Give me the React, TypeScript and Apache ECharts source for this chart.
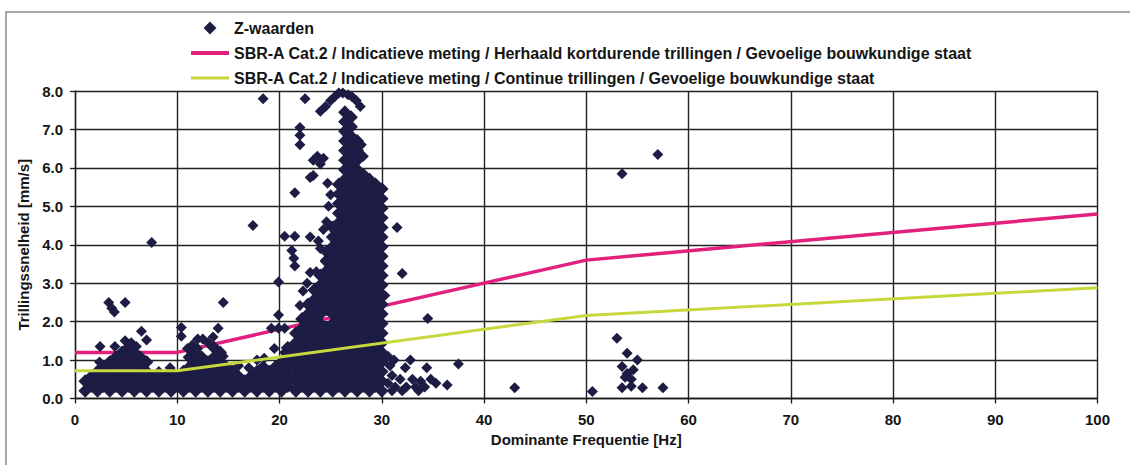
import React, { useEffect, useRef } from "react";
import * as echarts from "echarts";

// ---- Data ----
const lineFreq = [0, 10, 50, 100];
const herhaaldLimit = [1.2, 1.2, 3.6, 4.8];
const continueLimit = [0.72, 0.72, 2.16, 2.88];

const seriesNames = [
  "Z-waarden",
  "SBR-A Cat.2 / Indicatieve meting / Herhaald kortdurende trillingen / Gevoelige bouwkundige staat",
  "SBR-A Cat.2 / Indicatieve meting / Continue trillingen / Gevoelige bouwkundige staat",
];

const xTicks = [0, 10, 20, 30, 40, 50, 60, 70, 80, 90, 100];
const yTicks = [0, 1, 2, 3, 4, 5, 6, 7, 8];

// low-frequency band (0-21 Hz): [frequency, velocities]
const lowBand: [number, number[]][] = [
  [1.0, [0.2, 0.45]],
  [1.6, [0.32, 0.57]],
  [2.2, [0.2, 0.45, 0.7]],
  [2.8, [0.32, 0.57, 0.82]],
  [3.4, [0.2, 0.45, 0.7, 0.95]],
  [4.0, [0.32, 0.57, 0.82, 1.07]],
  [4.6, [0.2, 0.45, 0.7, 0.95, 1.2]],
  [5.2, [0.32, 0.57, 0.82, 1.07, 1.32]],
  [5.8, [0.2, 0.45, 0.7, 0.95, 1.2]],
  [6.4, [0.32, 0.57, 0.82, 1.07]],
  [7.0, [0.2, 0.45, 0.7, 0.95]],
  [7.6, [0.32, 0.57]],
  [8.2, [0.2, 0.45]],
  [8.8, [0.32, 0.57]],
  [9.4, [0.2, 0.45, 0.7]],
  [10.0, [0.32, 0.57]],
  [10.6, [0.2, 0.45, 0.7]],
  [11.2, [0.32, 0.57, 0.82, 1.07]],
  [11.8, [0.2, 0.45, 0.7, 0.95, 1.2]],
  [12.4, [0.32, 0.57, 0.82, 1.07]],
  [13.0, [0.2, 0.45, 0.7, 0.95]],
  [13.6, [0.32, 0.57, 0.82, 1.07, 1.32]],
  [14.2, [0.2, 0.45, 0.7, 0.95, 1.2]],
  [14.8, [0.32, 0.57, 0.82]],
  [15.4, [0.2, 0.45, 0.7]],
  [16.0, [0.32, 0.57]],
  [16.6, [0.2, 0.45]],
  [17.2, [0.32, 0.57]],
  [17.8, [0.2, 0.45, 0.7]],
  [18.4, [0.32, 0.57, 0.82]],
  [19.0, [0.2, 0.45, 0.7]],
  [19.6, [0.32, 0.57, 0.82]],
  [20.2, [0.2, 0.45, 0.7, 0.95]],
  [20.8, [0.32, 0.57, 0.82, 1.07, 1.32]],
];

// main dense cluster (21-30 Hz): [frequency, velocities]
const mainCluster: [number, number[]][] = [
  [21.6, [0.2, 0.45, 0.7, 0.95, 1.2, 1.45, 1.7]],
  [22.2, [0.32, 0.57, 0.82, 1.07, 1.32, 1.57, 1.82, 2.07]],
  [22.8, [0.2, 0.45, 0.7, 0.95, 1.2, 1.45, 1.7, 1.95, 2.2, 2.45]],
  [23.4, [0.32, 0.57, 0.82, 1.07, 1.32, 1.57, 1.82, 2.07, 2.32, 2.57, 2.82]],
  [24.0, [0.2, 0.45, 0.7, 0.95, 1.2, 1.45, 1.7, 1.95, 2.2, 2.45, 2.7, 2.95, 3.2]],
  [24.6, [0.32, 0.57, 0.82, 1.07, 1.32, 1.57, 1.82, 2.32, 2.57, 2.82, 3.07, 3.32, 3.57, 3.82]],
  [25.2, [0.2, 0.45, 0.7, 0.95, 1.2, 1.45, 1.7, 1.95, 2.2, 2.45, 2.7, 2.95, 3.2, 3.45, 3.7, 3.95, 4.2, 4.45]],
  [25.8, [0.32, 0.57, 0.82, 1.07, 1.32, 1.57, 1.82, 2.07, 2.32, 2.57, 2.82, 3.07, 3.32, 3.57, 3.82, 4.07, 4.32, 4.57, 4.82, 5.07, 5.32, 5.57]],
  [26.4, [0.2, 0.45, 0.7, 0.95, 1.2, 1.45, 1.7, 1.95, 2.2, 2.45, 2.7, 2.95, 3.2, 3.45, 3.7, 3.95, 4.2, 4.45, 4.7, 4.95, 5.2, 5.45, 5.7, 5.95, 6.2, 6.45, 6.7, 6.95, 7.2, 7.45]],
  [27.0, [0.32, 0.57, 0.82, 1.07, 1.32, 1.57, 1.82, 2.07, 2.32, 2.57, 2.82, 3.07, 3.32, 3.57, 3.82, 4.07, 4.32, 4.57, 4.82, 5.07, 5.32, 5.57, 5.82, 6.07, 6.32, 6.57, 6.82, 7.07, 7.32]],
  [27.6, [0.2, 0.45, 0.7, 0.95, 1.2, 1.45, 1.7, 1.95, 2.2, 2.45, 2.7, 2.95, 3.2, 3.45, 3.7, 3.95, 4.2, 4.45, 4.7, 4.95, 5.2, 5.45, 5.7, 5.95, 6.2, 6.45, 6.7]],
  [28.2, [0.32, 0.57, 0.82, 1.07, 1.32, 1.57, 1.82, 2.07, 2.32, 2.57, 2.82, 3.07, 3.32, 3.57, 3.82, 4.07, 4.32, 4.57, 4.82, 5.07, 5.32, 5.57, 5.82]],
  [28.8, [0.2, 0.45, 0.7, 0.95, 1.2, 1.45, 1.7, 1.95, 2.2, 2.45, 2.7, 2.95, 3.2, 3.45, 3.7, 3.95, 4.2, 4.45, 4.7, 4.95, 5.2, 5.45, 5.7]],
  [29.4, [0.32, 0.57, 0.82, 1.07, 1.32, 1.57, 1.82, 2.07, 2.32, 2.57, 2.82, 3.07, 3.32, 3.57, 3.82, 4.07, 4.32, 4.57, 4.82, 5.07, 5.32, 5.57]],
  [30.0, [0.2, 0.45, 0.7, 0.95, 1.2, 1.45, 1.7, 1.95, 2.2, 2.45, 2.7, 2.95, 3.2, 3.45, 3.7, 3.95, 4.2, 4.45, 4.7, 4.95, 5.2, 5.45]],
];

// individual measurements outside the dense areas: [frequency, velocity]
const loosePoints: [number, number][] = [
  [2.45, 1.35], [2.4, 0.95], [3.3, 2.5], [3.6, 2.35], [3.85, 2.25], [4.9, 2.5],
  [3.9, 1.35], [4.9, 1.5], [5.5, 1.45], [6.0, 1.35], [6.5, 1.75], [7.0, 1.52],
  [7.5, 4.06], [9.3, 0.8], [8.2, 0.7], [10.4, 1.85], [10.4, 1.62], [11.0, 1.3],
  [11.5, 1.4], [12.0, 1.3], [12.0, 1.55], [12.5, 1.55], [13.0, 1.45], [13.5, 1.6],
  [14.0, 1.83], [14.5, 2.5], [14.5, 1.1], [16.0, 0.85], [17.0, 0.8], [17.4, 4.5],
  [17.8, 1.0], [18.4, 7.8], [18.5, 1.05], [19.2, 1.83], [19.9, 1.83], [20.5, 1.83],
  [19.9, 2.17], [19.9, 3.03], [20.5, 1.2], [19.5, 1.3],
  [21.2, 3.85], [21.4, 3.65], [21.5, 3.45], [21.5, 4.22], [20.5, 4.22], [21.5, 5.35],
  [22.0, 6.6], [22.0, 6.85], [22.0, 7.05], [22.5, 7.8], [22.0, 2.42], [23.0, 3.28],
  [23.0, 4.2], [23.0, 5.75], [23.3, 5.8], [23.3, 6.2], [23.7, 6.3], [24.0, 6.1],
  [24.3, 6.25], [23.6, 3.3], [23.8, 4.1], [24.0, 3.9], [24.3, 4.4], [24.5, 3.6],
  [24.6, 4.6], [24.8, 5.0], [25.0, 5.3], [24.7, 5.6], [24.0, 7.47], [24.5, 7.6],
  [25.0, 7.75], [25.4, 7.85], [25.8, 7.95], [26.2, 7.95], [26.7, 7.9], [27.1, 7.85],
  [27.5, 7.75], [27.9, 7.6], [28.0, 6.6], [28.2, 6.3], [22.3, 2.8], [22.7, 3.0],
  [30.3, 2.68], [31.5, 4.45], [32.0, 3.25], [34.5, 2.08], [30.6, 1.1], [30.8, 0.85],
  [31.2, 1.0], [31.0, 0.6], [30.6, 0.4], [31.3, 0.3], [31.8, 0.5], [32.3, 0.8],
  [32.8, 1.0], [32.4, 0.3], [33.0, 0.5], [33.3, 0.3], [33.8, 0.45], [34.4, 0.8],
  [34.2, 0.3], [34.8, 0.5], [35.3, 0.4], [36.4, 0.35], [37.5, 0.9], [31.0, 0.2],
  [32.0, 0.2], [33.6, 0.2], [43.0, 0.28], [50.6, 0.18],
  [53.0, 1.57], [53.5, 5.85], [57.0, 6.35], [54.0, 1.18], [55.0, 1.0], [53.5, 0.83],
  [54.0, 0.65], [54.4, 0.5], [53.8, 0.55], [53.5, 0.28], [54.4, 0.32], [55.5, 0.28],
  [57.5, 0.28], [54.6, 0.75],
];

const FONT = "'Liberation Sans', Arial, sans-serif";
const TEXT_COLOR = "#151515";
const MARKER_COLOR = "#1c1c44";

export default function App() {
  const ref = useRef<HTMLDivElement>(null);

  useEffect(() => {
    if (!ref.current) return;
    const chart = echarts.init(ref.current, undefined, { renderer: "svg" });

    const denseData: [number, number][] = [];
    for (const [x, ys] of lowBand) for (const y of ys) denseData.push([x, y]);
    for (const [x, ys] of mainCluster) for (const y of ys) denseData.push([x, y]);

    const pinkData = lineFreq.map((f, i) => [f, herhaaldLimit[i]]);
    const greenData = lineFreq.map((f, i) => [f, continueLimit[i]]);

    chart.setOption({
      animation: false,
      backgroundColor: "#ffffff",
      graphic: [
        {
          type: "rect",
          shape: { x: 6, y: 12, width: 1140, height: 470 },
          style: { fill: "none", stroke: "#8a8a8a", lineWidth: 1.5 },
          silent: true,
          z: -1,
        },
      ],
      legend: {
        orient: "vertical",
        left: 186,
        top: 15,
        itemWidth: 38,
        itemHeight: 10,
        itemGap: 9,
        symbolKeepAspect: true,
        textStyle: { fontSize: 16, fontWeight: "bold", fontFamily: FONT, color: TEXT_COLOR },
        data: [
          { name: seriesNames[0], icon: "path://M5,0L10,5L5,10L0,5Z" },
          { name: seriesNames[1], icon: "path://M0,0H38V4H0Z" },
          { name: seriesNames[2], icon: "path://M0,0H38V3H0Z" },
        ],
      },
      grid: { left: 75, right: 32.5, top: 91, bottom: 66.5, containLabel: false },
      xAxis: {
        type: "value",
        min: xTicks[0],
        max: xTicks[xTicks.length - 1],
        interval: 10,
        name: "Dominante Frequentie [Hz]",
        nameLocation: "middle",
        nameGap: 33,
        nameTextStyle: { fontSize: 15, fontWeight: "bold", fontFamily: FONT, color: TEXT_COLOR },
        axisLine: { show: true, lineStyle: { color: "#1a1a1a", width: 1.3 } },
        axisTick: { show: true, length: 5, lineStyle: { color: "#1a1a1a", width: 1.3 } },
        axisLabel: { fontSize: 15, fontWeight: "bold", fontFamily: FONT, color: TEXT_COLOR, margin: 13 },
        splitLine: { show: true, lineStyle: { color: "#222222", width: 1.4 } },
      },
      yAxis: {
        type: "value",
        min: yTicks[0],
        max: yTicks[yTicks.length - 1],
        interval: 1,
        name: "Trillingssnelheid [mm/s]",
        nameLocation: "middle",
        nameGap: 43,
        nameTextStyle: { fontSize: 15, fontWeight: "bold", fontFamily: FONT, color: TEXT_COLOR },
        axisLine: { show: true, lineStyle: { color: "#1a1a1a", width: 1.3 } },
        axisTick: { show: true, length: 5, lineStyle: { color: "#1a1a1a", width: 1.3 } },
        axisLabel: {
          fontSize: 15,
          fontWeight: "bold",
          fontFamily: FONT,
          color: TEXT_COLOR,
          margin: 12,
          formatter: (v: number) => v.toFixed(1),
        },
        splitLine: { show: true, lineStyle: { color: "#222222", width: 1.4 } },
      },
      series: [
        {
          name: seriesNames[1],
          type: "line",
          data: pinkData,
          symbol: "none",
          z: 1,
          lineStyle: { color: "#e2207e", width: 3.5 },
          itemStyle: { color: "#e2207e" },
        },
        {
          name: seriesNames[0],
          type: "scatter",
          data: denseData,
          symbol: "diamond",
          symbolSize: 12,
          z: 2,
          itemStyle: { color: MARKER_COLOR, opacity: 1, borderColor: MARKER_COLOR, borderWidth: 1.2 },
        },
        {
          name: seriesNames[0],
          type: "scatter",
          data: loosePoints,
          symbol: "diamond",
          symbolSize: 11,
          z: 2,
          itemStyle: { color: MARKER_COLOR, opacity: 1 },
        },
        {
          name: seriesNames[2],
          type: "line",
          data: greenData,
          symbol: "none",
          z: 3,
          lineStyle: { color: "#c6d83c", width: 3 },
          itemStyle: { color: "#c6d83c" },
        },
      ],
    });

    return () => chart.dispose();
  }, []);

  return (
    <div
      ref={ref}
      style={{ position: "fixed", left: 0, top: 0, width: 1130, height: 465, background: "#fff" }}
    />
  );
}
